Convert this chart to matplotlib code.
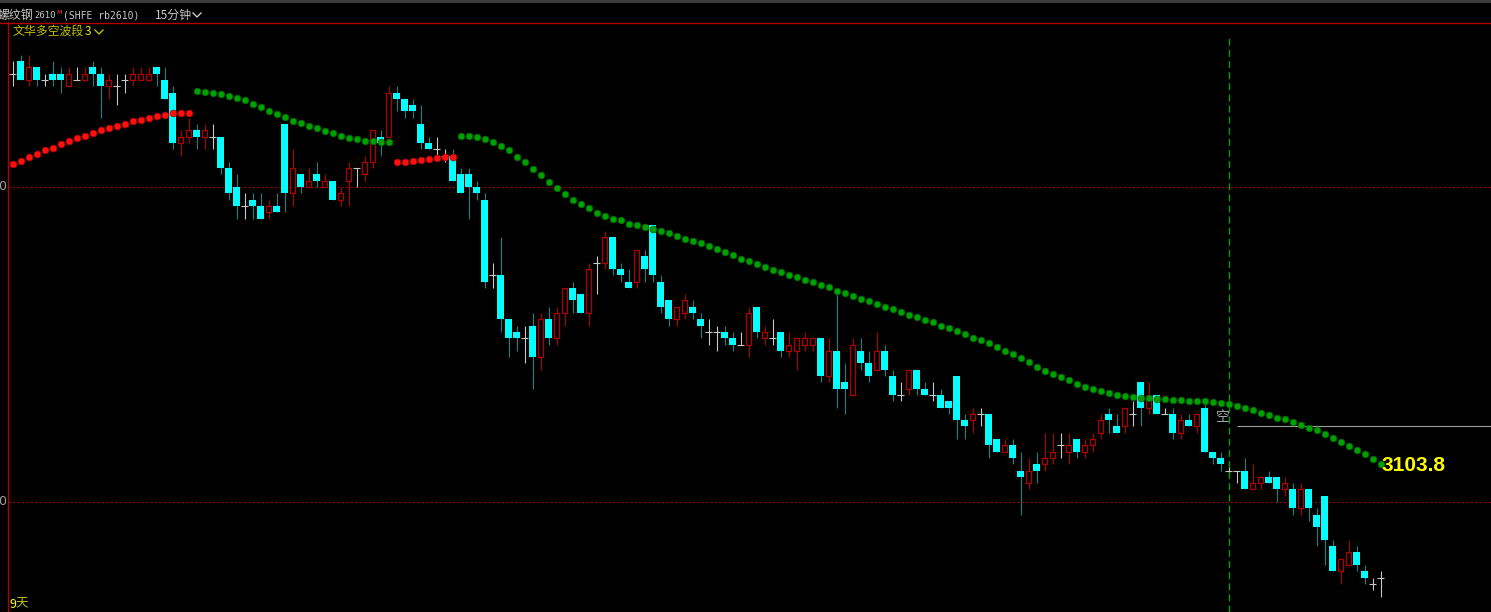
import matplotlib
matplotlib.use('Agg')
import numpy as np
import matplotlib.pyplot as plt
from matplotlib.lines import Line2D
from matplotlib.patches import Rectangle

# rb2610 15-minute bars
opens = [3168, 3170, 3167, 3169, 3167, 3168, 3168, 3166, 3167, 3167,
         3169, 3168, 3166, 3166, 3167, 3167, 3167, 3167, 3169, 3167,
         3165, 3157, 3158, 3159, 3158, 3158, 3158, 3153, 3150, 3147,
         3148, 3147, 3146, 3147, 3160, 3149, 3152, 3150, 3152, 3150,
         3151, 3148, 3151, 3153, 3152, 3154, 3158, 3158, 3165, 3164,
         3163, 3160, 3157, 3156, 3155, 3155, 3152, 3152, 3150, 3148,
         3136, 3136, 3129, 3127, 3126, 3128, 3123, 3129, 3126, 3130,
         3134, 3133, 3130, 3138, 3138, 3142, 3137, 3135, 3135, 3139,
         3144, 3135, 3132, 3129, 3130, 3131, 3129, 3127, 3127, 3127,
         3126, 3125, 3125, 3131, 3126, 3126, 3127, 3124, 3124, 3125,
         3125, 3126, 3120, 3124, 3119, 3117, 3124, 3122, 3121, 3124,
         3120, 3117, 3118, 3121, 3118, 3117, 3117, 3116, 3120, 3113,
         3113, 3114, 3114, 3110, 3108, 3109, 3105, 3103, 3106, 3106,
         3107, 3109, 3108, 3110, 3108, 3109, 3111, 3114, 3112, 3112,
         3114, 3119, 3115, 3117, 3114, 3114, 3111, 3113, 3112, 3115,
         3108, 3107, 3105, 3105, 3105, 3102, 3103, 3104, 3104, 3102,
         3102, 3099, 3102, 3098, 3101, 3093, 3089, 3090, 3092, 3089,
         3087, 3088]
highs = [3170, 3171, 3171, 3169, 3168, 3170, 3169, 3169, 3169, 3169,
         3170, 3169, 3168, 3168, 3168, 3169, 3169, 3169, 3169, 3169,
         3166, 3159, 3161, 3160, 3160, 3160, 3158, 3154, 3152, 3149,
         3149, 3149, 3148, 3149, 3160, 3156, 3152, 3153, 3154, 3152,
         3151, 3150, 3154, 3153, 3155, 3159, 3159, 3166, 3166, 3164,
         3164, 3163, 3158, 3158, 3156, 3156, 3153, 3153, 3151, 3149,
         3138, 3142, 3129, 3128, 3128, 3130, 3130, 3131, 3131, 3134,
         3135, 3133, 3138, 3139, 3143, 3142, 3138, 3137, 3140, 3140,
         3144, 3136, 3132, 3131, 3133, 3132, 3130, 3129, 3128, 3128,
         3127, 3127, 3131, 3131, 3128, 3129, 3127, 3127, 3126, 3127,
         3126, 3126, 3126, 3133, 3122, 3126, 3126, 3124, 3127, 3125,
         3121, 3119, 3121, 3121, 3119, 3119, 3118, 3116, 3120, 3114,
         3115, 3115, 3114, 3110, 3110, 3110, 3108, 3107, 3108, 3111,
         3111, 3111, 3111, 3110, 3110, 3111, 3114, 3115, 3114, 3115,
         3116, 3119, 3119, 3117, 3115, 3115, 3114, 3114, 3114, 3116,
         3108, 3108, 3106, 3105, 3107, 3106, 3104, 3105, 3104, 3104,
         3103, 3103, 3102, 3099, 3101, 3094, 3091, 3094, 3093, 3090,
         3088, 3089]
lows = [3166, 3167, 3166, 3166, 3166, 3166, 3165, 3166, 3167, 3167,
        3166, 3161, 3164, 3163, 3165, 3166, 3167, 3167, 3166, 3164,
        3156, 3155, 3157, 3156, 3156, 3156, 3152, 3148, 3145, 3145,
        3145, 3145, 3145, 3146, 3146, 3147, 3149, 3150, 3150, 3150,
        3148, 3147, 3147, 3150, 3151, 3153, 3155, 3158, 3162, 3161,
        3161, 3156, 3156, 3155, 3154, 3151, 3149, 3145, 3148, 3134,
        3134, 3127, 3123, 3124, 3122, 3118, 3121, 3125, 3125, 3128,
        3130, 3130, 3128, 3133, 3137, 3136, 3135, 3134, 3134, 3135,
        3135, 3130, 3128, 3128, 3129, 3129, 3126, 3125, 3124, 3125,
        3124, 3125, 3123, 3126, 3125, 3125, 3123, 3123, 3121, 3124,
        3124, 3119, 3119, 3115, 3114, 3117, 3121, 3119, 3121, 3120,
        3116, 3116, 3117, 3117, 3117, 3116, 3115, 3114, 3110, 3110,
        3111, 3112, 3107, 3108, 3108, 3106, 3098, 3102, 3103, 3105,
        3106, 3107, 3106, 3107, 3107, 3108, 3110, 3111, 3111, 3111,
        3112, 3112, 3114, 3114, 3114, 3110, 3110, 3112, 3111, 3108,
        3106, 3105, 3104, 3103, 3102, 3102, 3102, 3103, 3100, 3101,
        3098, 3098, 3097, 3093, 3090, 3089, 3087, 3090, 3089, 3087,
        3086, 3085]
closes = [3168, 3167, 3169, 3167, 3167, 3167, 3167, 3168, 3167, 3168,
          3168, 3166, 3167, 3166, 3167, 3168, 3168, 3168, 3168, 3164,
          3157, 3158, 3159, 3158, 3159, 3158, 3153, 3149, 3147, 3147,
          3147, 3145, 3147, 3146, 3149, 3153, 3150, 3151, 3151, 3151,
          3148, 3149, 3153, 3153, 3154, 3159, 3157, 3165, 3164, 3162,
          3162, 3157, 3156, 3156, 3155, 3151, 3149, 3150, 3149, 3135,
          3136, 3129, 3126, 3126, 3126, 3123, 3129, 3126, 3130, 3134,
          3132, 3130, 3137, 3138, 3142, 3137, 3136, 3134, 3140, 3137,
          3136, 3131, 3129, 3131, 3132, 3130, 3128, 3127, 3127, 3126,
          3125, 3125, 3130, 3127, 3127, 3126, 3124, 3125, 3126, 3126,
          3126, 3120, 3124, 3118, 3118, 3125, 3122, 3120, 3124, 3121,
          3117, 3117, 3121, 3118, 3117, 3117, 3115, 3115, 3113, 3112,
          3114, 3114, 3109, 3108, 3109, 3107, 3104, 3105, 3105, 3107,
          3108, 3109, 3109, 3108, 3109, 3110, 3113, 3113, 3111, 3115,
          3114, 3115, 3117, 3114, 3114, 3111, 3113, 3112, 3114, 3108,
          3107, 3106, 3105, 3105, 3102, 3103, 3104, 3103, 3102, 3103,
          3099, 3102, 3099, 3096, 3094, 3089, 3091, 3092, 3090, 3088,
          3087, 3088]

# 文华多空波段 dotted line, one value per bar
wave = [3153.6, 3154.1, 3154.7, 3155.3, 3155.8, 3156.2, 3156.8, 3157.3, 3157.7, 3158.1,
        3158.6, 3159.0, 3159.4, 3159.7, 3160.0, 3160.4, 3160.7, 3161.0, 3161.3, 3161.5,
        3161.7, 3161.7, 3161.7,
        3165.2, 3165.1, 3165.0, 3164.8, 3164.5, 3164.2, 3163.8, 3163.2, 3162.7, 3162.1,
        3161.6, 3161.1, 3160.5, 3160.1, 3159.7, 3159.3, 3158.9, 3158.5, 3158.1, 3157.8,
        3157.6, 3157.3, 3157.3, 3157.2, 3157.2,
        3153.9, 3154.0, 3154.2, 3154.3, 3154.4, 3154.6, 3154.7, 3154.8,
        3158.1, 3158.1, 3157.9, 3157.6, 3157.1, 3156.5, 3155.8, 3154.8, 3153.9, 3152.9,
        3151.9, 3150.8, 3149.8, 3148.9, 3148.0, 3147.3, 3146.6, 3145.9, 3145.4, 3145.0,
        3144.7, 3144.2, 3143.9, 3143.6, 3143.3, 3143.0, 3142.7, 3142.2, 3141.8, 3141.5,
        3141.1, 3140.6, 3140.1, 3139.7, 3139.2, 3138.6, 3138.2, 3137.8, 3137.3, 3136.9,
        3136.5, 3136.1, 3135.7, 3135.2, 3134.9, 3134.5, 3134.1, 3133.5, 3133.1, 3132.7,
        3132.3, 3131.9, 3131.4, 3131.0, 3130.6, 3130.2, 3129.7, 3129.3, 3128.9, 3128.5,
        3128.0, 3127.6, 3127.1, 3126.7, 3126.1, 3125.7, 3125.2, 3124.6, 3124.0, 3123.5,
        3122.9, 3122.2, 3121.5, 3120.8, 3120.3, 3119.8, 3119.3, 3118.7, 3118.3, 3117.9,
        3117.6, 3117.3, 3117.0, 3116.8, 3116.6, 3116.5, 3116.5, 3116.3, 3116.3, 3116.2,
        3116.2, 3116.1, 3116.1, 3116.0, 3115.8, 3115.7, 3115.5, 3115.2, 3114.9, 3114.6,
        3114.2, 3113.8, 3113.4, 3113.1, 3112.7, 3112.2, 3111.8, 3111.4, 3110.8, 3110.2,
        3109.6, 3108.9, 3108.3, 3107.6, 3106.8, 3106.1]
wave_turns = [0, 23, 48, 56]          # bar where the wave flips side
wave_sides = ['long', 'short', 'long', 'short']
wave_label = '3103.8'

grid_prices = [3150, 3100]
signal_bar = 152                      # 空 signal bar
signal_price = 3112

assert len(opens) == len(highs) == len(lows) == len(closes) == len(wave), \
    (len(opens), len(highs), len(lows), len(closes), len(wave))

W, H = 1491, 612
BAR_PX = 8.0        # pixels per bar
PRICE_PX = 6.3      # pixels per price tick

def fx(px):
    return px / W

def fy(py):
    return 1 - py / H

fig = plt.figure(figsize=(W / 100, H / 100), dpi=100, facecolor='black')
ax = fig.add_axes([fx(8), 0, (W - 8) / W, (H - 22) / H], facecolor='black')
x0 = -(12.5 - 8) / BAR_PX
ax.set_xlim(x0, x0 + (W - 8) / BAR_PX)
ytop = grid_prices[1] + (502 - 22) / PRICE_PX
ax.set_ylim(ytop - (H - 22) / PRICE_PX, ytop)
ax.set_xticks([])
ax.set_yticks([])
for s in ['top', 'right', 'bottom']:
    ax.spines[s].set_visible(False)
ax.spines['left'].set_color('#b00000')
ax.spines['left'].set_linewidth(1.0)

o = np.array(opens, float)
h = np.array(highs, float)
l = np.array(lows, float)
c = np.array(closes, float)
x = np.arange(len(c))
up = c > o
dn = c < o
flat = c == o

# grid lines
for gp in grid_prices:
    ax.axhline(gp, color='#9a0000', lw=0.8, ls=(0, (2, 2)), zorder=1)

# wicks
ax.vlines(x[dn], l[dn], h[dn], color='#008b8b', lw=0.8, zorder=2)
ax.vlines(x[up], l[up], h[up], color='#b00000', lw=0.8, zorder=2)
ax.vlines(x[flat], l[flat], h[flat], color='#c8c8c8', lw=0.8, zorder=2)
# bodies
ax.bar(x[dn], (o - c)[dn], bottom=c[dn], width=0.8, color='#00ffff', lw=0, zorder=3)
ax.bar(x[up], (c - o)[up], bottom=o[up], width=0.72, facecolor='black',
       edgecolor='#b00000', lw=0.9, zorder=3)
ax.hlines(o[flat], x[flat] - 0.42, x[flat] + 0.42, color='#c8c8c8', lw=0.8, zorder=3)

# wave dots
wv = np.array(wave)
bounds = wave_turns + [len(wv)]
for k, side in enumerate(wave_sides):
    a, b = bounds[k], bounds[k + 1]
    if side == 'long':
        fc, ec = '#ff1010', '#b00000'
    else:
        fc, ec = '#00a000', '#005800'
    ax.scatter(x[a:b], wv[a:b], s=24, facecolor=fc, edgecolor=ec, lw=0.5, zorder=5)

ax.annotate(wave_label, (x[-1], wv[-1]), xytext=(1.0, -1.5), textcoords='offset points',
            ha='left', va='center', color='#ffff00', fontsize=15, fontweight='bold',
            family='Liberation Sans', zorder=6)

# signal marker
ax.axvline(signal_bar, ymax=1 - 16 / (H - 22), color='#00a000', lw=1.0,
           ls=(0, (5, 3)), zorder=4)
ax.hlines(signal_price, signal_bar + 1, ax.get_xlim()[1], color='#a0a0a0', lw=0.8, zorder=4)
ax.text(signal_bar - 0.7, signal_price + 1.5, '空', ha='center', va='center',
        color='#a8a8a8', fontsize=10, family=['Noto Sans CJK SC', 'DejaVu Sans'], zorder=6)

# header strip
fig.add_artist(Rectangle((0, fy(3)), 1, 3 / H, transform=fig.transFigure,
                         facecolor='#3a3a3a', edgecolor='none'))
fig.add_artist(Line2D([0, 1], [fy(22.5), fy(22.5)], color='#b00000', lw=1.0))

cjk = ['Noto Sans CJK SC', 'DejaVu Sans']
title_y = 15
fig.text(fx(-2), fy(title_y), '螺纹钢', color='#c8c8c8', fontsize=8.6, family=cjk,
         ha='left', va='center')
fig.text(fx(34), fy(title_y), '2610', color='#c8c8c8', fontsize=6.4,
         family='DejaVu Sans Mono', ha='left', va='center')
fig.text(fx(56.5), fy(12), 'M', color='#ff3030', fontsize=4.6, family='DejaVu Sans',
         ha='left', va='center')
fig.text(fx(63), fy(title_y), '(SHFE rb2610)', color='#c8c8c8', fontsize=7.0,
         family='DejaVu Sans Mono', ha='left', va='center')
fig.text(fx(155), fy(title_y), '15分钟', color='#c8c8c8', fontsize=8.6, family=cjk,
         ha='left', va='center')
fig.add_artist(Line2D([fx(193), fx(197), fx(201)], [fy(13), fy(17), fy(13)],
                      color='#c8c8c8', lw=1.0))

fig.text(fx(13), fy(31.5), '文华多空波段', color='#c0c000', fontsize=8.6, family=cjk,
         ha='left', va='center')
fig.text(fx(85), fy(31.5), '3', color='#e8e800', fontsize=8.6, family=cjk,
         ha='left', va='center')
fig.add_artist(Line2D([fx(95), fx(99), fx(103)], [fy(30), fy(34), fy(30)],
                      color='#c0c000', lw=1.0))

for gp in grid_prices:
    gy = 22 + (ytop - gp) * PRICE_PX
    fig.text(fx(6), fy(gy), '0', color='#a0a0a0', fontsize=9, ha='right', va='center')

fig.text(fx(9), fy(604), '9', color='#ffff00', fontsize=9, family=cjk,
         ha='left', va='center')
fig.text(fx(15.5), fy(604), '天', color='#c0c000', fontsize=9, family=cjk,
         ha='left', va='center')

fig.savefig('out.png', dpi=100, facecolor='black')
